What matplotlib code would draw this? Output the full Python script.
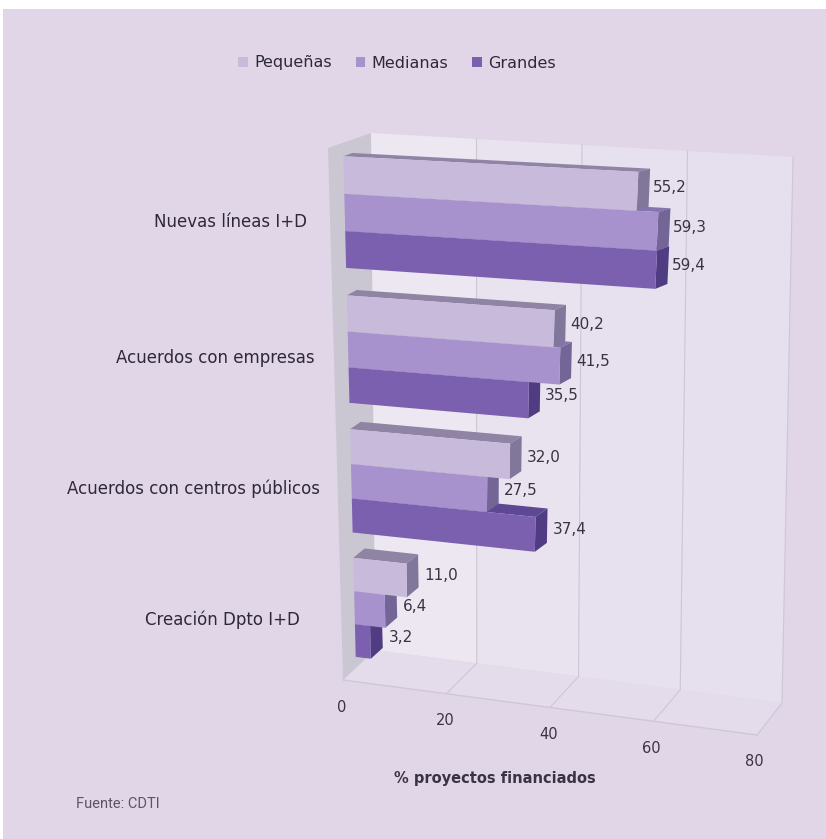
import matplotlib
matplotlib.use("Agg")
import matplotlib.pyplot as plt
from matplotlib.patches import Polygon, Rectangle, Patch

categories = ["Nuevas líneas I+D", "Acuerdos con empresas",
              "Acuerdos con centros públicos", "Creación Dpto I+D"]
series_names = ["Pequeñas", "Medianas", "Grandes"]
pequenas = [55.2, 40.2, 32.0, 11.0]
medianas = [59.3, 41.5, 27.5, 6.4]
grandes = [59.4, 35.5, 37.4, 3.2]
ticks = [0, 20, 40, 60, 80]
VMAX = 80.0

W, H = 826, 839
plt.rcParams['font.family'] = ['DejaVu Sans']
fig = plt.figure(figsize=(W / 100, H / 100), dpi=100, facecolor='white')
ax = fig.add_axes([0, 0, 1, 1])
ax.set_xlim(0, W)
ax.set_ylim(H, 0)
ax.axis('off')

BG = '#E1D6E8'
ax.add_patch(Rectangle((3, 9), W, H, fc=BG, ec='none', zorder=0))


def bilin(v, s, tl, tr, bl, br):
    t = v / VMAX
    top = (tl[0] + (tr[0] - tl[0]) * t, tl[1] + (tr[1] - tl[1]) * t)
    bot = (bl[0] + (br[0] - bl[0]) * t, bl[1] + (br[1] - bl[1]) * t)
    return (top[0] + (bot[0] - top[0]) * s, top[1] + (bot[1] - top[1]) * s)


# room (walls + floor)
def room(v, d, s):
    front = bilin(v, s, (328, 148), (770, 172), (343, 680), (757, 735))
    back = bilin(v, s, (371, 133), (793, 157), (375, 650), (782, 703))
    return (front[0] + (back[0] - front[0]) * d, front[1] + (back[1] - front[1]) * d)


# bar front and back planes
FRONT = ((343, 142), (772, 164), (356, 669), (732, 717))
BACK = ((352, 139), (785, 161), (368, 658), (745, 706))


def warp(u):
    return u + 0.08 * u * (1 - u)


def front(v, u):
    return bilin(v, warp(u), *FRONT)


def back(v, u):
    return bilin(v, warp(u), *BACK)


def poly(pts, fc, z, ec='none', lw=0):
    ax.add_patch(Polygon(pts, closed=True, fc=fc, ec=ec, lw=lw, zorder=z))


# back wall panels
panel_cols = ['#EDE7F2', '#E9E2EF', '#E7E0EE', '#E6DFED']
for a, b, c in zip(ticks[:-1], ticks[1:], panel_cols):
    poly([room(a, 1, 0), room(b, 1, 0), room(b, 1, 1), room(a, 1, 1)], c, 1)
# floor
poly([room(0, 0, 1), room(VMAX, 0, 1), room(VMAX, 1, 1), room(0, 1, 1)], '#E4DCEA', 2)
# left wall
poly([room(0, 0, 0), room(0, 1, 0), room(0, 1, 1), room(0, 0, 1)], '#CBC7D2', 3)
# grid lines
for t in ticks[1:]:
    ax.plot(*zip(room(t, 1, 0), room(t, 1, 1), room(t, 0, 1)), color='#CCC6D5', lw=0.8, zorder=3)
ax.plot(*zip(room(0, 0, 1), room(VMAX, 0, 1)), color='#CFC7D6', lw=1.0, zorder=3)

# tick labels
for t in ticks:
    p = room(t, 0, 1)
    ax.text(p[0] - 1 - t * 0.02, p[1] + 27, str(t), ha='center', va='center',
            fontsize=10.5, color='#3A3442', zorder=9)

styles = [
    dict(front='#C8BADA', top='#8F84A3', side='#81779A'),
    dict(front='#A792CD', top='#8674AE', side='#736696'),
    dict(front='#7C60B0', top='#5D4893', side='#503C82'),
]
values = [pequenas, medianas, grandes]

GAP = 0.2
bar_h = (1 - GAP) / 3

z = 10
for i in reversed(range(len(categories))):
    for j in reversed(range(3)):
        v = values[j][i]
        u0 = (i + GAP / 2 + j * bar_h) / 4
        u1 = u0 + bar_h / 4
        st = styles[j]
        poly([front(0, u0), front(v, u0), back(v, u0), back(0, u0)], st['top'], z)
        poly([front(v, u0), back(v, u0), back(v, u1), front(v, u1)], st['side'], z)
        poly([front(0, u0), front(v, u0), front(v, u1), front(0, u1)], st['front'], z)
        um = (u0 + u1) / 2
        p = back(v, um)
        ax.text(p[0] + 3 + 4 * um, p[1] - 1 + 7.5 * um, f"{v:.1f}".replace('.', ','),
                ha='left', va='center', fontsize=11, color='#3A3442', zorder=50)
        z += 1

# category labels
cat_right = [307, 315, 320, 300]
cat_y = [222, 358, 489, 620]
for name, rx, y in zip(categories, cat_right, cat_y):
    ax.text(rx, y, name, ha='right', va='center', fontsize=12, color='#2E2936', zorder=9)

ax.text(495, 778, "% proyectos financiados", ha='center', va='center', fontsize=10.5,
        fontweight='bold', color='#3A3442', zorder=9)
ax.text(76, 804, "Fuente: CDTI", ha='left', va='center', fontsize=10.5, color='#5A5560',
        family=['Roboto'], zorder=9)

handles = [Patch(fc=s['front'], ec='none', label=n) for s, n in zip(styles, series_names)]
ax.legend(handles=handles, ncol=3, loc='center', bbox_to_anchor=(397 / W, 1 - 63 / H),
          frameon=False, fontsize=11.5, handlelength=0.6, handleheight=0.6, handletextpad=0.4,
          columnspacing=1.5, labelcolor='#2E2936')

fig.savefig('out.png', dpi=100, facecolor='white')
